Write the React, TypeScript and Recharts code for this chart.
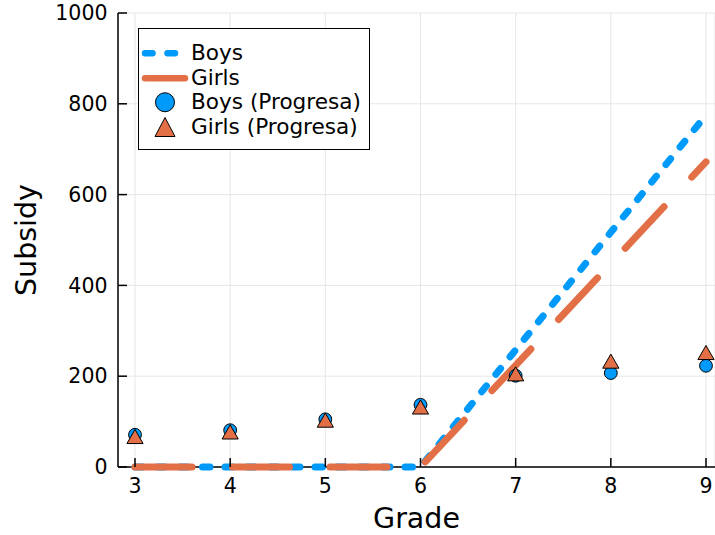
import React from "react";
import { ComposedChart, Line, Scatter, XAxis, YAxis, CartesianGrid, Legend, ReferenceLine } from "recharts";

const FONT = "'DejaVu Sans', sans-serif";
const BLUE = "#009AFA";
const ORANGE = "#E26F46";

// values
const grades = [3, 4, 5, 6, 7, 8, 9];
const boysModel = [0, 0, 0, 0, 258, 517, 775];
const girlsModel = [0, 0, 0, 0, 224, 448, 672];
const boysProgresa = [71, 81, 105, 137, 201, 207, 223];
const girlsProgresa = [62, 72, 98, 127, 200, 228, 247];
const xTicks = [3, 4, 5, 6, 7, 8, 9];
const yTicks = [0, 200, 400, 600, 800, 1000];

const data = grades.map((g, i) => ({
  grade: g,
  boys: boysModel[i],
  girls: girlsModel[i],
  boysP: boysProgresa[i],
  girlsP: girlsProgresa[i],
}));

const legendOrder = ["boys", "girls", "boysP", "girlsP"];
const dashes: Record<string, string> = { boys: "7.5 15", girls: "57 40.5" };

function CircleMark(props: any) {
  const { cx, cy } = props;
  return <circle cx={cx} cy={cy} r={6.4} fill={BLUE} stroke="#000" strokeWidth={1} />;
}

function TriangleMark(props: any) {
  const { cx, cy } = props;
  const pts = `${cx},${cy - 9.4} ${cx - 8.1},${cy + 4.7} ${cx + 8.1},${cy + 4.7}`;
  return <polygon points={pts} fill={ORANGE} stroke="#000" strokeWidth={1} />;
}

function LegendBox(props: any) {
  const items = [...(props.payload ?? [])].sort(
    (a: any, b: any) => legendOrder.indexOf(a.dataKey) - legendOrder.indexOf(b.dataKey)
  );
  return (
    <div
      style={{
        width: 232,
        height: 122,
        boxSizing: "border-box",
        border: "1.2px solid #000",
        background: "#fff",
        paddingTop: 12,
        fontFamily: FONT,
        fontSize: 21.6,
        color: "#000",
      }}
    >
      {items.map((it: any) => (
        <div key={it.value} style={{ display: "flex", alignItems: "center", height: 24.5, lineHeight: "24.5px" }}>
          <svg width={52} height={24.5} style={{ display: "block", flex: "none" }}>
            {it.type === "line" && (
              <line
                x1={6}
                x2={46}
                y1={12.25}
                y2={12.25}
                stroke={it.color}
                strokeWidth={6.5}
                strokeLinecap="round"
                strokeDasharray={dashes[it.dataKey]}
              />
            )}
            {it.type === "circle" && <circle cx={26} cy={12.25} r={9.5} fill={it.color} stroke="#000" strokeWidth={1} />}
            {it.type === "triangle" && (
              <polygon points="26,2.5 16,21.5 36,21.5" fill={it.color} stroke="#000" strokeWidth={1} />
            )}
          </svg>
          <span style={{ whiteSpace: "nowrap" }}>{it.value}</span>
        </div>
      ))}
    </div>
  );
}

export default function App() {
  const tick = { fill: "#000", fontSize: 20.5, fontFamily: FONT };
  const axisStroke = { stroke: "#000", strokeWidth: 1.5 };
  return (
    <div style={{ position: "absolute", left: 0, top: 0, fontFamily: FONT, background: "#fff" }}>
      <ComposedChart width={715} height={535} data={data} margin={{ top: 13, right: 0, bottom: 0, left: 0 }}>
        <CartesianGrid stroke="#e6e6e6" strokeWidth={1} />
        <XAxis
          dataKey="grade"
          type="number"
          domain={[2.8214, 9.0946]}
          ticks={xTicks}
          interval={0}
          height={68}
          tickSize={-9}
          tickMargin={20.5}
          tick={tick}
          axisLine={false}
          tickLine={axisStroke}
          label={{ value: "Grade", position: "insideBottom", offset: 7, fill: "#000", fontSize: 28.5, fontFamily: FONT }}
        />
        <YAxis
          type="number"
          domain={[0, 1000]}
          ticks={yTicks}
          interval={0}
          width={118}
          tickSize={-9}
          tickMargin={19.5}
          tick={tick}
          axisLine={axisStroke}
          tickLine={axisStroke}
          label={{
            value: "Subsidy",
            angle: -90,
            position: "insideLeft",
            offset: 26,
            fill: "#000",
            fontSize: 28.5,
            fontFamily: FONT,
            style: { textAnchor: "middle" },
          }}
        />
        {/* x axis baseline, placed so the series draw over it */}
        <ReferenceLine y={0} stroke="#000" strokeWidth={1.5} />
        <Line
          type="linear"
          dataKey="boys"
          name="Boys"
          legendType="line"
          stroke={BLUE}
          strokeWidth={7}
          strokeDasharray={dashes.boys}
          strokeLinecap="round"
          dot={false}
          activeDot={false}
          isAnimationActive={false}
        />
        <Line
          type="linear"
          dataKey="girls"
          name="Girls"
          legendType="line"
          stroke={ORANGE}
          strokeWidth={7}
          strokeDasharray={dashes.girls}
          strokeLinecap="round"
          dot={false}
          activeDot={false}
          isAnimationActive={false}
        />
        <Scatter
          dataKey="boysP"
          name="Boys (Progresa)"
          legendType="circle"
          fill={BLUE}
          shape={CircleMark}
          isAnimationActive={false}
        />
        <Scatter
          dataKey="girlsP"
          name="Girls (Progresa)"
          legendType="triangle"
          fill={ORANGE}
          shape={TriangleMark}
          isAnimationActive={false}
        />
        <Legend
          layout="vertical"
          align="center"
          verticalAlign="middle"
          content={LegendBox}
          wrapperStyle={{ left: 138, top: 28, width: 232, height: 122 }}
        />
      </ComposedChart>
    </div>
  );
}
